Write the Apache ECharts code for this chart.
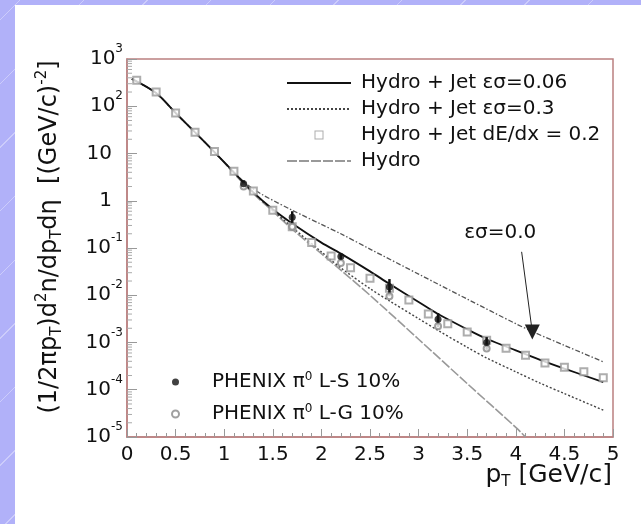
<!DOCTYPE html>
<html><head><meta charset="utf-8">
<script src="https://cdn.jsdelivr.net/npm/echarts@6/dist/echarts.min.js"></script>
<style>
html,body{margin:0;padding:0;}
body{width:641px;height:524px;position:relative;overflow:hidden;
 background:#b1b1f9 repeating-linear-gradient(-45deg, rgba(255,255,255,0) 0px, rgba(255,255,255,0) 44px, rgba(255,255,255,0.35) 44px, rgba(255,255,255,0.35) 45px);}
#panel{position:absolute;left:15px;top:5px;width:626px;height:519px;background:#fff;}
#c{position:absolute;left:0;top:0;width:641px;height:524px;}
</style>
</head><body><div id="panel"></div><div id="c"></div>
<script>
// ---- data ----
const xTicks = [0, 0.5, 1, 1.5, 2, 2.5, 3, 3.5, 4, 4.5, 5];
const yDecades = [1e-5, 1e-4, 1e-3, 1e-2, 1e-1, 1, 10, 1e2, 1e3];

// Hydro + Jet eps*sigma = 0.06 (solid)
const solidX = [0.05, 0.3, 0.5, 0.7, 0.9, 1.1, 1.3, 1.5, 1.7, 2.0, 2.2, 2.5, 2.7, 3.0, 3.2, 3.5, 3.7, 4.0, 4.25, 4.5, 4.9];
const solidY = [380, 190, 72, 28, 10.7, 4.0, 1.5, 0.66, 0.33, 0.13, 0.076, 0.032, 0.0174, 0.0072, 0.004, 0.0019, 0.0012, 6.8e-4, 4.3e-4, 2.8e-4, 1.45e-4];

// Hydro + Jet eps*sigma = 0.0 (upper dash-dot, pointed by arrow)
const zeroX = [0.05, 0.3, 0.5, 0.7, 0.9, 1.1, 1.25, 1.4, 1.7, 2.0, 2.2, 2.5, 3.0, 3.5, 4.0, 4.2, 4.5, 4.9];
const zeroY = [380, 190, 72, 28, 10.7, 4.0, 2.09, 1.32, 0.63, 0.316, 0.2, 0.095, 0.028, 0.0083, 0.0025, 0.0016, 8.7e-4, 3.9e-4];

// Hydro + Jet eps*sigma = 0.3 (lower dotted)
const lossX = [0.05, 0.3, 0.5, 0.7, 0.9, 1.1, 1.3, 1.5, 1.7, 2.0, 2.2, 2.5, 2.7, 3.0, 3.2, 3.5, 3.7, 4.0, 4.25, 4.5, 4.9];
const lossY = [380, 190, 72, 28, 10.7, 4.0, 1.5, 0.63, 0.275, 0.083, 0.038, 0.0138, 0.0076, 0.0032, 0.0018, 7.9e-4, 4.7e-4, 2.4e-4, 1.38e-4, 8.3e-5, 3.7e-5];

// Hydro only (grey)
const hydroX = [0.05, 0.3, 0.5, 0.7, 0.9, 1.1, 1.3, 1.5, 1.7, 2.0, 2.2, 2.5, 3.0, 3.5, 4.0, 4.1];
const hydroY = [380, 190, 72, 28, 10.7, 3.8, 1.41, 0.6, 0.25, 0.076, 0.034, 0.01, 1.17e-3, 1.35e-4, 1.6e-5, 1e-5];

// Hydro + Jet dE/dx = 0.2 (open squares)
const dedxX = [0.1, 0.3, 0.5, 0.7, 0.9, 1.1, 1.3, 1.5, 1.7, 1.9, 2.1, 2.3, 2.5, 2.7, 2.9, 3.1, 3.3, 3.5, 3.7, 3.9, 4.1, 4.3, 4.5, 4.7, 4.9];
const dedxY = [355, 200, 72, 28, 11, 4.2, 1.6, 0.63, 0.28, 0.13, 0.068, 0.038, 0.023, 0.014, 0.0079, 0.004, 0.0025, 0.00166, 0.00112, 7.6e-4, 5.4e-4, 3.7e-4, 3.0e-4, 2.4e-4, 1.8e-4];

// PHENIX pi0 L-S 10% (filled, with error bars)
const lsX = [1.2, 1.7, 2.2, 2.7, 3.2, 3.7];
const lsY = [2.3, 0.45, 0.066, 0.015, 0.0031, 0.0010];
const lsLo = [2.0, 0.33, 0.057, 0.0095, 0.0021, 0.0007];
const lsHi = [2.7, 0.6, 0.075, 0.022, 0.0042, 0.0013];

// PHENIX pi0 L-G 10% (open circles)
const lgX = [1.2, 1.7, 2.2, 2.7, 3.2, 3.7];
const lgY = [2.0, 0.28, 0.048, 0.0095, 0.0022, 7.5e-4];

// arrow annotation eps*sigma = 0.0
const arrowFrom = [4.06, 0.083];
const arrowTo = [4.17, 0.00166];
const arrowText = [3.84, 0.21];

// ---- chart ----
const FONT = '"DejaVu Sans", Verdana, sans-serif';
const INK = '#111';
const minorY = [];
for (let e = -5; e < 3; e++) for (let k = 2; k <= 9; k++) minorY.push(k * Math.pow(10, e));

const zip = (xs, ys) => xs.map((x, i) => [x, ys[i]]);
const chart = echarts.init(document.getElementById('c'), null, {renderer: 'canvas'});

const names = {
  s006: 'Hydro + Jet εσ=0.06',
  s03: 'Hydro + Jet εσ=0.3',
  dedx: 'Hydro + Jet dE/dx = 0.2',
  hydro: 'Hydro',
  zero: 'Hydro + Jet εσ=0.0',
  ls: 'PHENIX π0 L-S 10%',
  lg: 'PHENIX π0 L-G 10%'
};
// hollow square centred in a 64x9 legend slot (zero-area subpaths only widen the box)
const squareIcon = 'path://M0,4.5L0,4.5M64,4.5L64,4.5M27.5,0H36.5V9H27.5ZM28.5,1V8H35.5V1Z';
const noDot = {opacity: 0};

chart.setOption({
  backgroundColor: 'transparent',
  animation: false,
  textStyle: {fontFamily: FONT},
  grid: {left: 127, right: 28, top: 59, bottom: 87, outerBoundsMode: 'none', containLabel: false,
    show: true, borderColor: '#bb8080', borderWidth: 1.5, backgroundColor: 'transparent'},
  graphic: [{
    type: 'text', right: 29, top: 463, silent: true,
    style: {
      text: 'p{sub|T} [GeV/c]', fontSize: 25, fontFamily: FONT, fill: INK,
      rich: {sub: {fontSize: 15, fontFamily: FONT, fill: INK, verticalAlign: 'bottom', padding: [14, 0, 0, 0]}}
    }
  }],
  legend: [
    {
      data: [
        {name: names.s006, itemStyle: noDot},
        {name: names.s03, itemStyle: noDot},
        {name: names.dedx, icon: squareIcon, itemStyle: {color: '#999', borderWidth: 0}},
        {name: names.hydro, itemStyle: noDot}
      ],
      orient: 'vertical', left: 281, top: 67,
      itemWidth: 64, itemHeight: 9, itemGap: 4,
      textStyle: {fontSize: 20, color: INK, fontFamily: FONT, lineHeight: 22, padding: [0, 0, 0, 5]},
      selectedMode: false
    },
    {
      data: [names.ls, names.lg],
      orient: 'vertical', left: 166, top: 366,
      itemWidth: 7, itemHeight: 7, itemGap: 10,
      formatter: n => n.replace('π0', 'π{sup|0}'),
      textStyle: {fontSize: 20, color: INK, fontFamily: FONT, lineHeight: 22, padding: [0, 0, 0, 28],
        rich: {sup: {fontSize: 12, verticalAlign: 'top', lineHeight: 22, padding: [0, 0, 6, 0], fontFamily: FONT, color: INK}}},
      selectedMode: false
    }
  ],
  xAxis: {
    type: 'value', min: 0, max: 5, interval: 0.5,
    axisLine: {show: true, lineStyle: {color: '#bb8080', width: 1.5}},
    axisTick: {inside: true, length: 8, lineStyle: {color: '#999'}},
    minorTick: {show: true, splitNumber: 5, length: 4, lineStyle: {color: '#999'}},
    splitLine: {show: false},
    axisLabel: {fontSize: 20, color: INK, margin: 8, fontFamily: FONT,
      formatter: v => String(xTicks.find(t => Math.abs(t - v) < 1e-9) ?? v)}
  },
  yAxis: {
    type: 'log', logBase: 10, min: yDecades[0], max: yDecades[yDecades.length - 1], splitNumber: 8,
    axisLine: {show: true, lineStyle: {color: '#bb8080', width: 1.5}},
    axisTick: {inside: true, length: 10, lineStyle: {color: '#999'}},
    splitLine: {show: false},
    axisLabel: {
      margin: 4, color: INK, fontFamily: FONT,
      formatter: v => {
        const e = Math.round(Math.log10(v));
        if (e === 0) return '{p|1}';
        if (e === 1) return '{p|10}';
        return '{b|10}{s|' + e + '}';
      },
      rich: {
        b: {fontSize: 20, padding: [6, 0, 6, 0], color: INK, fontFamily: FONT},
        p: {fontSize: 20, padding: [6, 11, 6, 0], color: INK, fontFamily: FONT},
        s: {fontSize: 12, verticalAlign: 'top', color: INK, fontFamily: FONT}
      }
    },
    name: '(1/2πp{sub|T})d{sup|2}n/dp{sub|T}dη  [(GeV/c){sup|-2}]',
    nameLocation: 'middle', nameGap: 62, nameRotate: 90,
    nameTextStyle: {fontSize: 24, color: INK, fontFamily: FONT, lineHeight: 30, padding: [0, 0, 0, 22],
      rich: {
        sub: {fontSize: 15, verticalAlign: 'bottom', lineHeight: 30, color: INK, fontFamily: FONT},
        sup: {fontSize: 15, verticalAlign: 'top', lineHeight: 30, color: INK, fontFamily: FONT}
      }}
  },
  series: [
    {
      name: names.hydro, type: 'line', data: zip(hydroX, hydroY), smooth: 0.3,
      symbol: 'none', showSymbol: false, clip: true,
      lineStyle: {color: '#999', width: 1.6, type: [10, 2]}, itemStyle: {color: '#999'}, z: 2
    },
    {
      name: names.s03, type: 'line', data: zip(lossX, lossY), smooth: 0.3,
      symbol: 'none', showSymbol: false,
      lineStyle: {color: '#444', width: 1.4, type: [2, 2]}, itemStyle: {color: '#444'}, z: 3
    },
    {
      name: names.zero, type: 'line', data: zip(zeroX, zeroY), smooth: 0.3,
      symbol: 'none', showSymbol: false,
      lineStyle: {color: '#555', width: 1.3, type: [5, 2, 1.5, 2]}, itemStyle: {color: '#555'}, z: 3,
      markLine: {
        silent: true, symbol: ['none', 'triangle'], symbolSize: 15, symbolRotate: 180,
        lineStyle: {color: '#222', width: 1, type: 'solid'}, label: {show: false},
        itemStyle: {color: '#111'},
        emphasis: {disabled: true},
        data: [[{coord: arrowFrom}, {coord: arrowTo}]]
      },
      markPoint: {
        silent: true, symbol: 'circle', symbolSize: 0,
        label: {show: true, position: 'inside', formatter: 'εσ=0.0', fontSize: 20, color: INK, fontFamily: FONT},
        data: [{coord: arrowText, value: 0}]
      }
    },
    {
      name: names.s006, type: 'line', data: zip(solidX, solidY), smooth: 0.3,
      symbol: 'none', showSymbol: false,
      lineStyle: {color: '#111', width: 1.8, type: 'solid'}, itemStyle: {color: '#111'}, z: 4
    },
    {
      name: names.dedx, type: 'scatter', data: zip(dedxX, dedxY),
      symbol: 'emptyRect', symbolSize: 7,
      itemStyle: {color: '#999', borderColor: '#999', borderWidth: 1}, z: 5
    },
    {
      name: 'errors', type: 'custom', z: 6,
      data: lsX.map((x, i) => [x, lsLo[i], lsHi[i]]),
      encode: {x: 0, y: [1, 2]},
      renderItem: (params, api) => {
        const a = api.coord([api.value(0), api.value(1)]);
        const b = api.coord([api.value(0), api.value(2)]);
        return {type: 'line', shape: {x1: a[0], y1: a[1], x2: b[0], y2: b[1]}, style: {stroke: '#111', lineWidth: 2.5}};
      }
    },
    {
      name: names.lg, type: 'scatter', data: zip(lgX, lgY),
      symbol: 'emptyCircle', symbolSize: 6,
      itemStyle: {color: '#888', borderColor: '#888', borderWidth: 1}, z: 6
    },
    {
      name: names.ls, type: 'scatter', data: zip(lsX, lsY),
      symbol: 'circle', symbolSize: 7,
      itemStyle: {color: '#111'}, z: 7
    },
    {
      name: 'minorY', type: 'custom', silent: true, z: 1,
      data: minorY.map(v => [0, v]),
      encode: {x: 0, y: 1},
      renderItem: (params, api) => {
        const p = api.coord([0, api.value(1)]);
        return {type: 'line', shape: {x1: p[0], y1: p[1], x2: p[0] + 5, y2: p[1]}, style: {stroke: '#aaa', lineWidth: 1}};
      }
    }
  ]
});
</script>
</body></html>
